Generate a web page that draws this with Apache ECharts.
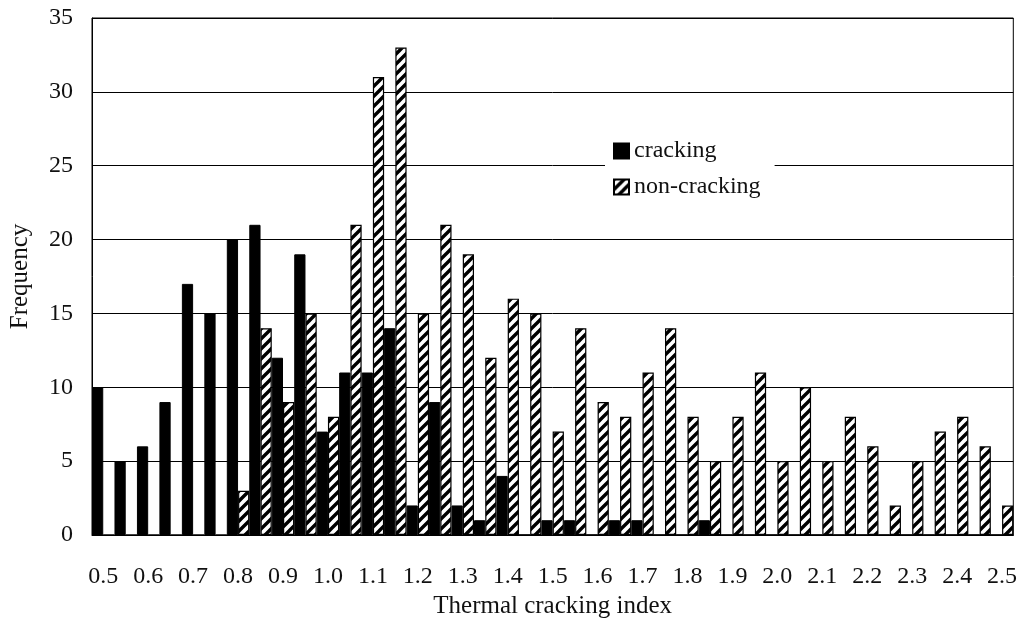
<!DOCTYPE html>
<html>
<head>
<meta charset="utf-8">
<script src="https://cdn.jsdelivr.net/npm/echarts@6/dist/echarts.min.js"></script>
<style>
html,body{margin:0;padding:0;background:#fff;}
#chart{width:1020px;height:624px;}
</style>
</head>
<body>
<div id="chart"></div>
<script>
const categories = ['0.5','0.55','0.6','0.65','0.7','0.75','0.8','0.85','0.9','0.95','1.0','1.05','1.1','1.15','1.2','1.25','1.3','1.35','1.4','1.45','1.5','1.55','1.6','1.65','1.7','1.75','1.8','1.85','1.9','1.95','2.0','2.05','2.1','2.15','2.2','2.25','2.3','2.35','2.4','2.45','2.5'];
const cracking = [10,5,6,9,17,15,20,21,12,19,7,11,11,14,2,9,2,1,4,0,1,1,0,1,1,0,0,1,0,0,0,0,0,0,0,0,0,0,0,0,0];
const nonCracking = [0,0,0,0,0,0,3,14,9,15,8,21,31,33,15,21,19,12,16,15,7,14,9,8,11,14,8,5,8,11,5,10,5,8,6,2,5,7,8,6,2];
const yTicks = {min:0, max:35, interval:5};

function hatch(){
  const c = document.createElement('canvas');
  c.width = 10; c.height = 10;
  const g = c.getContext('2d');
  g.fillStyle = '#fff'; g.fillRect(0,0,10,10);
  g.strokeStyle = '#000'; g.lineWidth = 3.4; g.lineCap = 'square';
  g.beginPath();
  g.moveTo(-2,12); g.lineTo(12,-2);
  g.moveTo(-7,7); g.lineTo(7,-7);
  g.moveTo(3,17); g.lineTo(17,3);
  g.stroke();
  return c;
}
const font = 'Liberation Serif';
const chart = echarts.init(document.getElementById('chart'), null, {renderer:'canvas'});
chart.setOption({
  animation:false,
  backgroundColor:'#fff',
  textStyle:{fontFamily:font, color:'#111'},
  grid:{left:89, right:4, top:18, bottom:89, show:true, borderColor:'#000', borderWidth:1, backgroundColor:'transparent'},
  legend:{
    orient:'vertical', left:605, top:132,
    icon:'rect',
    itemWidth:15, itemHeight:15, itemGap:12,
    backgroundColor:'#fff', padding:[7,14,7,8],
    textStyle:{fontFamily:font, fontSize:24, color:'#111'},
    data:['cracking','non-cracking']
  },
  xAxis:{
    type:'category', data:categories,
    name:'Thermal cracking index', nameLocation:'middle', nameGap:58,
    nameTextStyle:{fontFamily:font, fontSize:25, color:'#111'},
    axisLine:{lineStyle:{color:'#000', width:1}},
    axisTick:{show:false},
    axisLabel:{interval:1, margin:30, fontFamily:font, fontSize:24, color:'#111'}
  },
  yAxis:{
    type:'value', min:yTicks.min, max:yTicks.max, interval:yTicks.interval,
    name:'Frequency', nameLocation:'middle', nameGap:59,
    nameTextStyle:{fontFamily:font, fontSize:25, color:'#111'},
    axisLine:{show:true, lineStyle:{color:'#000', width:1}},
    axisTick:{show:false},
    axisLabel:{margin:19, fontFamily:font, fontSize:24, color:'#111'},
    splitLine:{lineStyle:{color:'#000', width:1}}
  },
  series:[
    {name:'cracking', type:'bar', data:cracking, barGap:'0%', barCategoryGap:'0%',
     itemStyle:{color:'#000', borderColor:'#000', borderWidth:1}},
    {name:'non-cracking', type:'bar', data:nonCracking, barGap:'0%', barCategoryGap:'0%',
     itemStyle:{color:{image:hatch(), repeat:'repeat'}, borderColor:'#000', borderWidth:1.2}}
  ]
});
</script>
</body>
</html>
